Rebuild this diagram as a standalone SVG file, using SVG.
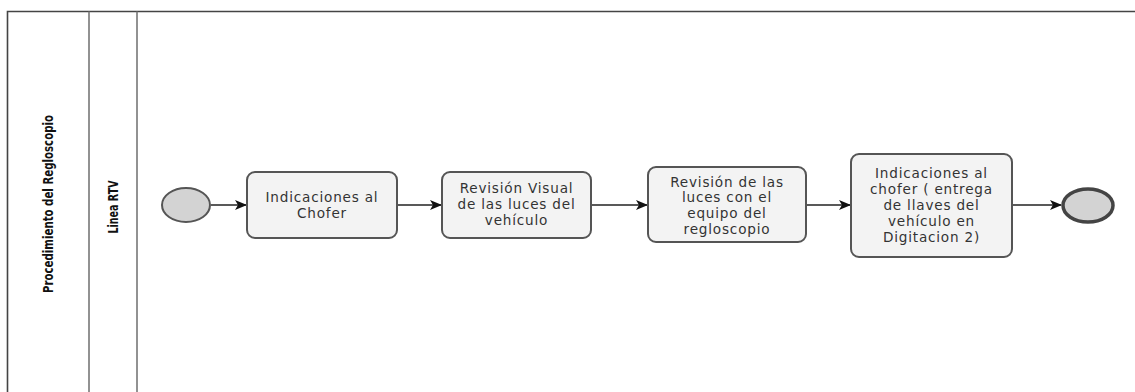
<svg xmlns="http://www.w3.org/2000/svg" width="1135" height="392" viewBox="0 0 1135 392">
  <style>
    .pool { fill: none; stroke: #444; stroke-width: 1.6; }
    .lane { stroke: #777; stroke-width: 1.6; }
    .hdr { font-family: "DejaVu Sans Condensed", "DejaVu Sans", sans-serif; font-weight: bold; font-size: 14px; fill: #111; text-anchor: middle; }
    .task { fill: #f3f3f3; stroke: #555; stroke-width: 2; }
    .lbl { font-family: "DejaVu Sans", "Open Sans", sans-serif; font-size: 13.6px; letter-spacing: 0.8px; fill: #333; text-anchor: middle; }
    .start { fill: #d3d3d3; stroke: #555; stroke-width: 2; }
    .end { fill: #d3d3d3; stroke: #444; stroke-width: 3.5; }
    .flow { stroke: #222; stroke-width: 1.3; fill: none; marker-end: url(#arrow); }
  </style>
  <defs>
    <marker id="arrow" viewBox="0 0 12 10" refX="11" refY="5" markerWidth="12" markerHeight="10" markerUnits="userSpaceOnUse" orient="auto">
      <path d="M0,0 L12,5 L0,10 L3,5 Z" fill="#111"/>
    </marker>
  </defs>

  <rect width="1135" height="392" fill="#fff"/>

  <!-- pool and lane frame -->
  <g id="pool">
    <path class="pool" d="M7.5,392 V11.5 H1135"/>
    <line class="lane" x1="89" y1="11.5" x2="89" y2="392"/>
    <line class="lane" x1="137" y1="11.5" x2="137" y2="392"/>
    <text class="hdr" transform="translate(52.5,204) rotate(-90)" textLength="178" lengthAdjust="spacingAndGlyphs">Procedimiento del Regloscopio</text>
    <text class="hdr" transform="translate(118,207) rotate(-90)" textLength="53" lengthAdjust="spacingAndGlyphs">Linea RTV</text>
  </g>

  <!-- sequence flows -->
  <g id="connectors">
    <line class="flow" x1="211" y1="205" x2="246" y2="205"/>
    <line class="flow" x1="398" y1="205" x2="441" y2="205"/>
    <line class="flow" x1="592" y1="205" x2="647" y2="205"/>
    <line class="flow" x1="807" y1="205" x2="850" y2="205"/>
    <line class="flow" x1="1013" y1="205" x2="1061" y2="205"/>
  </g>

  <g id="start-event">
    <ellipse class="start" cx="186" cy="205" rx="24" ry="17"/>
  </g>

  <g id="task-indicaciones">
    <rect class="task" x="247" y="172" width="150" height="66" rx="8"/>
    <text class="lbl" x="322" y="201.5">Indicaciones al</text>
    <text class="lbl" x="322" y="217.5">Chofer</text>
  </g>

  <g id="task-revision-visual">
    <rect class="task" x="442" y="172" width="149" height="66" rx="8"/>
    <text class="lbl" x="516.5" y="193">Revisión Visual</text>
    <text class="lbl" x="516.5" y="209">de las luces del</text>
    <text class="lbl" x="516.5" y="225">vehículo</text>
  </g>

  <g id="task-revision-regloscopio">
    <rect class="task" x="648" y="167" width="158" height="75" rx="8"/>
    <text class="lbl" x="727" y="186.5">Revisión de las</text>
    <text class="lbl" x="727" y="202.2">luces con el</text>
    <text class="lbl" x="727" y="217.9">equipo del</text>
    <text class="lbl" x="727" y="233.6">regloscopio</text>
  </g>

  <g id="task-entrega-llaves">
    <rect class="task" x="851" y="154" width="161" height="103" rx="8"/>
    <text class="lbl" x="931.5" y="178">Indicaciones al</text>
    <text class="lbl" x="931.5" y="194">chofer ( entrega</text>
    <text class="lbl" x="931.5" y="210">de llaves del</text>
    <text class="lbl" x="931.5" y="226">vehículo en</text>
    <text class="lbl" x="931.5" y="242">Digitacion 2)</text>
  </g>

  <g id="end-event">
    <ellipse class="end" cx="1088" cy="205.5" rx="25" ry="16.5"/>
  </g>
</svg>
